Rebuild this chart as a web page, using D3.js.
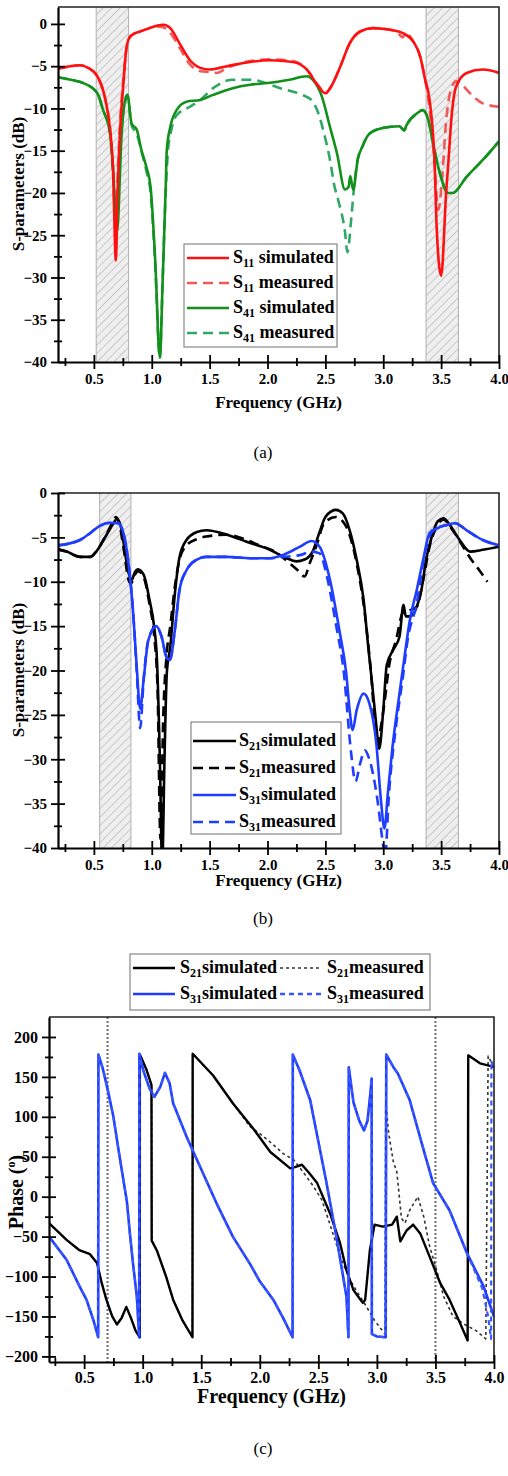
<!DOCTYPE html>
<html>
<head>
<meta charset="utf-8">
<script src="https://cdn.jsdelivr.net/npm/d3@7"></script>
<style>
  body { margin: 0; background: #fff; }
  svg { display: block; }
  text { font-family: "Liberation Serif", "Times New Roman", serif; white-space: pre; }
</style>
</head>
<body>
<svg id="fig" width="508" height="1476"></svg>
<script>
// ---------- Panel (a): reflection S11 and isolation S41, dB vs GHz ----------
const s11Simulated = [[0.19,-5.3],[0.3,-5.0],[0.38,-4.9],[0.45,-5.2],[0.53,-6.2],[0.6,-9],[0.64,-12.5],[0.665,-17],[0.69,-28],[0.705,-20],[0.725,-13],[0.755,-7],[0.78,-3],[0.8,-1.8],[0.83,-1.3],[0.9,-0.9],[0.98,-0.5],[1.05,-0.2],[1.1,-0.1],[1.16,-0.5],[1.24,-2.3],[1.33,-4.3],[1.42,-5.2],[1.5,-5.4],[1.65,-5.0],[1.85,-4.5],[2.02,-4.3],[2.22,-4.5],[2.34,-5.4],[2.44,-7.4],[2.5,-8.2],[2.55,-7.4],[2.63,-5.0],[2.71,-2.3],[2.8,-0.9],[2.91,-0.5],[3.06,-0.7],[3.17,-1.1],[3.26,-2.1],[3.32,-3.9],[3.36,-6.5],[3.4,-9],[3.445,-16.9],[3.46,-23.6],[3.5,-29.8],[3.545,-19.6],[3.56,-16.9],[3.59,-11],[3.63,-7.4],[3.72,-5.8],[3.86,-5.4],[4.0,-5.8]];
const s11Measured = [[0.19,-5.3],[0.3,-5.0],[0.38,-4.9],[0.45,-5.2],[0.53,-6.2],[0.6,-9],[0.64,-12.5],[0.665,-17.5],[0.685,-24],[0.705,-18],[0.725,-12],[0.755,-6.5],[0.78,-3],[0.8,-1.8],[0.83,-1.3],[0.9,-0.9],[0.98,-0.5],[1.05,-0.3],[1.1,-0.4],[1.15,-0.9],[1.24,-2.8],[1.33,-4.8],[1.42,-5.6],[1.5,-5.7],[1.56,-5.8],[1.65,-5.2],[1.85,-4.4],[2.02,-4.2],[2.22,-4.4],[2.34,-5.4],[2.44,-7.3],[2.5,-8.2],[2.55,-7.4],[2.63,-5.0],[2.71,-2.3],[2.8,-0.9],[2.91,-0.5],[3.06,-0.7],[3.12,-1.0],[3.17,-1.6],[3.19,-1.0],[3.26,-2.1],[3.32,-3.9],[3.36,-6.5],[3.4,-10],[3.44,-16],[3.475,-22],[3.51,-18],[3.54,-12],[3.58,-8],[3.63,-6.8],[3.68,-7.2],[3.75,-8.2],[3.86,-9.4],[4.0,-9.8]];
const s41Simulated = [[0.19,-6.3],[0.3,-6.6],[0.41,-7],[0.53,-8.2],[0.58,-10.2],[0.64,-13],[0.665,-17],[0.7,-24.6],[0.74,-13],[0.77,-9],[0.79,-8.4],[0.826,-11.8],[0.87,-12.5],[0.91,-14.9],[0.955,-17],[0.99,-19.3],[1.03,-28],[1.07,-39.5],[1.095,-30],[1.12,-19.6],[1.13,-14.9],[1.16,-12.2],[1.215,-10.2],[1.3,-9.2],[1.42,-9],[1.53,-8.4],[1.7,-7.6],[1.85,-7.2],[2.0,-7.0],[2.19,-6.6],[2.34,-6.2],[2.39,-6.6],[2.47,-8.6],[2.54,-12.2],[2.6,-15.3],[2.67,-19.6],[2.7,-19.3],[2.715,-18],[2.74,-19.6],[2.78,-16],[2.82,-14.5],[2.88,-13],[3.0,-12.3],[3.14,-12.1],[3.18,-12.6],[3.2,-12],[3.29,-10.6],[3.34,-10.2],[3.39,-11.4],[3.43,-14.1],[3.49,-17.7],[3.56,-20],[3.6,-20],[3.72,-18.1],[3.86,-16.1],[4.0,-13.9]];
const s41Measured = [[0.19,-6.3],[0.3,-6.6],[0.41,-7],[0.53,-8.2],[0.58,-10.2],[0.64,-13],[0.665,-17.5],[0.695,-24],[0.72,-17],[0.745,-11.5],[0.77,-9.2],[0.79,-8.6],[0.826,-12],[0.87,-13],[0.91,-15],[0.955,-17.5],[0.99,-20],[1.03,-28.5],[1.07,-39.5],[1.095,-30],[1.12,-20],[1.14,-15],[1.17,-12.5],[1.215,-10.8],[1.33,-9.8],[1.42,-9],[1.53,-7.6],[1.7,-6.6],[1.85,-6.6],[2.11,-7.6],[2.3,-8.4],[2.38,-9],[2.44,-10.6],[2.48,-12.5],[2.54,-16.1],[2.58,-19.3],[2.61,-20.8],[2.67,-24.7],[2.69,-27],[2.725,-22.8],[2.75,-19],[2.78,-16],[2.82,-14.5],[2.88,-13],[3.0,-12.3],[3.14,-12.1],[3.18,-12.6],[3.2,-12],[3.29,-10.6],[3.34,-10.2],[3.39,-11.4],[3.43,-14.1],[3.49,-17.7],[3.56,-20],[3.6,-20],[3.72,-18.1],[3.86,-16.1],[4.0,-13.9]];
const bandsA = [[0.52, 0.80], [3.37, 3.65]];

// ---------- Panel (b): transmission S21 and S31, dB vs GHz ----------
const s21Simulated = [[0.19,-6.35],[0.265,-6.6],[0.38,-7.2],[0.47,-7.2],[0.52,-6.6],[0.61,-4.7],[0.67,-3.4],[0.7,-2.9],[0.74,-4.2],[0.77,-6.8],[0.8,-9],[0.826,-9.8],[0.855,-8.9],[0.88,-8.6],[0.93,-9.2],[0.98,-12],[1.02,-15],[1.045,-18.8],[1.07,-30],[1.09,-42],[1.11,-30],[1.13,-20.3],[1.16,-17.3],[1.2,-11.3],[1.24,-7.2],[1.3,-5.3],[1.39,-4.4],[1.47,-4.2],[1.65,-4.7],[1.82,-5.5],[2.02,-6.4],[2.16,-7.3],[2.25,-7.7],[2.32,-7.5],[2.39,-6.6],[2.45,-4.4],[2.5,-2.7],[2.59,-1.9],[2.65,-2.3],[2.71,-4.2],[2.77,-7.5],[2.83,-12],[2.87,-17.3],[2.9,-21],[2.935,-25.5],[2.965,-28.8],[3.0,-24.5],[3.03,-19.4],[3.085,-17.7],[3.14,-16.2],[3.175,-12.6],[3.195,-13.9],[3.23,-13.9],[3.29,-12.8],[3.33,-10.9],[3.37,-7.5],[3.42,-4.9],[3.47,-3.2],[3.52,-2.85],[3.575,-3.6],[3.66,-5.3],[3.75,-6.6],[3.86,-6.4],[4.0,-6.05]];
const s21Measured = [[0.19,-6.35],[0.265,-6.6],[0.38,-7.2],[0.47,-7.2],[0.52,-6.6],[0.61,-4.6],[0.67,-3.1],[0.69,-2.7],[0.72,-3.5],[0.76,-6.5],[0.8,-9.8],[0.82,-10.2],[0.855,-9.2],[0.88,-8.8],[0.93,-9.5],[0.98,-12.5],[1.02,-16],[1.05,-22],[1.075,-39],[1.1,-25],[1.13,-18],[1.16,-15],[1.2,-10.5],[1.24,-7.5],[1.3,-5.9],[1.39,-5.2],[1.47,-4.9],[1.65,-4.7],[1.82,-5.3],[1.93,-5.9],[2.05,-6.5],[2.19,-7.9],[2.27,-8.8],[2.32,-9.4],[2.365,-7.9],[2.42,-6.05],[2.49,-3.4],[2.59,-2.7],[2.68,-3.8],[2.77,-7.9],[2.84,-13.5],[2.89,-19.6],[2.95,-28.2],[2.98,-26.3],[3.01,-23.7],[3.05,-19.5],[3.11,-16.6],[3.17,-13.5],[3.23,-13.2],[3.29,-12.8],[3.345,-9.8],[3.4,-6.05],[3.46,-3.8],[3.52,-3],[3.6,-4.2],[3.69,-6.05],[3.76,-7.5],[3.83,-8.7],[3.9,-10]];
const s31Simulated = [[0.19,-5.9],[0.38,-5.3],[0.47,-4.5],[0.55,-3.7],[0.64,-3.35],[0.71,-3.4],[0.755,-4.5],[0.795,-7.5],[0.84,-13.6],[0.87,-19.6],[0.9,-24.3],[0.93,-21],[0.97,-16.6],[1.04,-15],[1.085,-16.2],[1.13,-18.6],[1.157,-18.8],[1.2,-15.4],[1.24,-10.9],[1.3,-8.7],[1.39,-7.5],[1.47,-7.2],[1.65,-7.2],[1.85,-7.35],[2.02,-7.35],[2.13,-7],[2.28,-6.05],[2.38,-5.4],[2.45,-6.05],[2.54,-9.8],[2.62,-15.4],[2.68,-20.3],[2.71,-24.5],[2.735,-26.7],[2.77,-24.5],[2.83,-22.6],[2.88,-23.7],[2.94,-28.2],[2.98,-34.6],[3.01,-37.8],[3.04,-33.8],[3.08,-28.6],[3.14,-22.6],[3.18,-18.8],[3.23,-14.3],[3.29,-10.9],[3.345,-7.5],[3.4,-4.5],[3.46,-4],[3.55,-3.6],[3.62,-3.4],[3.72,-4.2],[3.86,-5.3],[4.0,-5.9]];
const s31Measured = [[0.19,-5.9],[0.38,-5.3],[0.47,-4.5],[0.55,-3.7],[0.64,-3.35],[0.71,-3.4],[0.755,-4.5],[0.795,-7.5],[0.84,-13.6],[0.87,-20],[0.9,-26.5],[0.93,-21],[0.97,-16.6],[1.04,-15],[1.085,-16.2],[1.13,-18.6],[1.157,-18.8],[1.2,-15.4],[1.24,-10.9],[1.3,-8.7],[1.39,-7.5],[1.47,-7.2],[1.65,-7.2],[1.85,-7.35],[2.02,-7.35],[2.13,-7.2],[2.28,-7],[2.38,-6.6],[2.45,-6.8],[2.52,-9.8],[2.59,-14.7],[2.66,-20.3],[2.72,-29],[2.76,-32.5],[2.8,-30.5],[2.84,-29],[2.88,-30],[2.95,-34.6],[3.0,-39.8],[3.015,-41],[3.05,-33.8],[3.11,-26.3],[3.17,-20.7],[3.21,-16.6],[3.29,-12.4],[3.345,-7.9],[3.4,-4.8],[3.46,-4],[3.55,-3.6],[3.62,-3.4],[3.72,-4.2],[3.86,-5.3],[4.0,-5.9]];
const bandsB = [[0.55, 0.82], [3.37, 3.65]];

// ---------- Panel (c): transmission phase, degrees vs GHz ----------
const s21PhaseSimulated = [[0.2,-33],[0.35,-54],[0.46,-67],[0.55,-72],[0.61,-83],[0.65,-108],[0.69,-129],[0.74,-150],[0.78,-160],[0.82,-152],[0.86,-138],[0.9,-152],[0.94,-168],[0.975,-176],[0.976,178],[1.03,160],[1.075,140],[1.077,-55],[1.12,-67],[1.2,-100],[1.26,-129],[1.34,-155],[1.425,-176],[1.427,179],[1.6,152],[1.77,117],[1.945,85],[2.09,56],[2.26,35.5],[2.3,37],[2.36,40],[2.42,30],[2.49,17],[2.6,-21],[2.685,-58],[2.74,-92],[2.8,-117],[2.86,-129],[2.88,-133],[2.9,-129],[2.94,-67],[2.98,-35],[3.05,-37.5],[3.13,-35],[3.17,-25],[3.2,-56],[3.255,-42],[3.31,-35],[3.37,-46],[3.45,-75],[3.54,-108],[3.62,-129],[3.7,-155],[3.775,-180],[3.78,177],[3.88,167],[4.0,162.5]];
const s21PhaseMeasured = [[0.2,-33],[0.35,-54],[0.46,-67],[0.55,-72],[0.61,-83],[0.65,-108],[0.69,-129],[0.74,-150],[0.78,-160],[0.82,-152],[0.86,-138],[0.9,-152],[0.94,-168],[0.975,-176],[0.976,178],[1.03,160],[1.075,140],[1.077,-55],[1.12,-67],[1.2,-100],[1.26,-129],[1.34,-155],[1.425,-176],[1.427,179],[1.6,152],[1.77,117],[1.915,88],[2.0,79],[2.1,67],[2.2,54],[2.29,46],[2.39,27],[2.46,12.5],[2.53,-4],[2.6,-35],[2.7,-80],[2.77,-104],[2.83,-119],[2.9,-135],[2.98,-155],[3.07,-172],[3.075,120],[3.1,80],[3.14,44],[3.17,31],[3.18,17],[3.2,-12.5],[3.21,-27],[3.24,-33],[3.28,-17],[3.35,0],[3.4,-25],[3.45,-62],[3.51,-92],[3.57,-125],[3.65,-150],[3.75,-160],[3.85,-168],[3.93,-178],[3.95,176],[4.0,162]];
const s31PhaseSimulated = [[0.2,-50],[0.35,-79],[0.46,-112],[0.52,-129],[0.58,-155],[0.62,-176],[0.622,178],[0.66,160],[0.7,135],[0.75,100],[0.79,62],[0.835,21],[0.865,-6],[0.89,-45],[0.92,-87],[0.95,-125],[0.97,-176],[0.972,179],[1.005,158],[1.06,135],[1.1,125],[1.15,137.5],[1.19,155],[1.23,142],[1.26,117],[1.375,75],[1.49,37.5],[1.63,-8],[1.77,-50],[1.92,-85],[2.0,-106],[2.115,-129],[2.2,-152],[2.28,-176],[2.282,178],[2.34,158],[2.43,121],[2.57,17],[2.66,-55],[2.74,-125],[2.757,-176],[2.76,162],[2.8,118],[2.85,95],[2.89,83],[2.92,95],[2.945,130],[2.955,148],[2.957,-172],[3.0,-175],[3.075,-176],[3.08,178],[3.14,162.5],[3.18,154],[3.28,121],[3.4,58],[3.48,17],[3.62,-17],[3.77,-71],[3.91,-112],[4.0,-150]];
const s31PhaseMeasured = [[0.2,-50],[0.35,-79],[0.46,-112],[0.52,-129],[0.58,-155],[0.62,-176],[0.622,178],[0.66,160],[0.7,135],[0.75,100],[0.79,62],[0.835,21],[0.865,-6],[0.89,-45],[0.92,-87],[0.95,-125],[0.97,-176],[0.972,179],[1.005,158],[1.06,135],[1.1,125],[1.15,137.5],[1.19,155],[1.23,142],[1.26,117],[1.375,75],[1.49,37.5],[1.63,-8],[1.77,-50],[1.92,-85],[2.0,-106],[2.115,-129],[2.2,-152],[2.28,-176],[2.282,178],[2.34,158],[2.43,121],[2.57,17],[2.66,-55],[2.74,-125],[2.757,-176],[2.76,162],[2.8,118],[2.85,95],[2.89,83],[2.92,95],[2.945,130],[2.955,148],[2.957,-172],[3.0,-175],[3.075,-176],[3.08,178],[3.14,162.5],[3.18,154],[3.28,121],[3.4,58],[3.48,17],[3.62,-17],[3.77,-71],[3.9,-115],[3.95,-150],[3.975,-178],[3.978,170],[4.0,158]];
const phaseMarkers = [0.7, 3.5];

// ---------- Shared tick values ----------
const freqTicks = [0.5, 1.0, 1.5, 2.0, 2.5, 3.0, 3.5, 4.0];
const freqMinorTicks = [0.25, 0.75, 1.25, 1.75, 2.25, 2.75, 3.25, 3.75];
const dbTicks = [0, -5, -10, -15, -20, -25, -30, -35, -40];
const dbMinorTicks = [-2.5, -7.5, -12.5, -17.5, -22.5, -27.5, -32.5, -37.5];
const phaseTicks = [-200, -150, -100, -50, 0, 50, 100, 150, 200];
const phaseMinorTicks = [-175, -125, -75, -25, 25, 75, 125, 175];

const svg = d3.select("#fig");
svg.append("rect").attr("width", 508).attr("height", 1476).attr("fill", "#fff");

const defs = svg.append("defs");
const hatch = defs.append("pattern")
  .attr("id", "hatch").attr("patternUnits", "userSpaceOnUse")
  .attr("width", 6).attr("height", 6).attr("patternTransform", "rotate(45)");
hatch.append("rect").attr("width", 6).attr("height", 6).attr("fill", "#efefef");
hatch.append("line").attr("x1", 0).attr("y1", 0).attr("x2", 0).attr("y2", 6)
  .attr("stroke", "#9a9a9a").attr("stroke-width", 0.9);

const RED = "#ff1010", RED_M = "#f25a5a";
const GREEN = "#12901a", GREEN_M = "#2fa866";
const BLUE = "#1f3dff";

// Text with a subscript part, e.g. S + 11 + " simulated"
function subLabel(sel, x, y, base, sub, rest, size, subSize) {
  const t = sel.append("text").attr("x", x).attr("y", y)
    .attr("font-size", size).attr("font-weight", "bold").attr("fill", "#000");
  t.append("tspan").text(base);
  t.append("tspan").attr("font-size", subSize).attr("dy", subSize * 0.35).text(sub);
  t.append("tspan").attr("dy", -subSize * 0.35).text(rest);
  return t;
}

function drawPanel(cfg) {
  const g = svg.append("g");
  const x = d3.scaleLinear().domain(cfg.xDomain).range([cfg.left, cfg.right]);
  const y = d3.scaleLinear().domain(cfg.yDomain).range([cfg.bottom, cfg.top]);
  const clipId = "clip-" + cfg.id;
  defs.append("clipPath").attr("id", clipId).append("rect")
    .attr("x", cfg.left).attr("y", cfg.top)
    .attr("width", cfg.right - cfg.left).attr("height", cfg.bottom - cfg.top);

  // shaded frequency bands
  (cfg.bands || []).forEach(([a, b]) => {
    g.append("rect").attr("x", x(a)).attr("y", cfg.top)
      .attr("width", x(b) - x(a)).attr("height", cfg.bottom - cfg.top)
      .attr("fill", "url(#hatch)");
    [a, b].forEach(v => g.append("line")
      .attr("x1", x(v)).attr("x2", x(v)).attr("y1", cfg.top).attr("y2", cfg.bottom)
      .attr("stroke", "#b0b0b0").attr("stroke-width", 1));
  });

  // dotted reference frequencies
  (cfg.markers || []).forEach(v => g.append("line")
    .attr("x1", x(v)).attr("x2", x(v)).attr("y1", cfg.top).attr("y2", cfg.bottom)
    .attr("stroke", "#777").attr("stroke-width", 2.2).attr("stroke-dasharray", "2,2"));

  const line = d3.line().x(d => x(d[0])).y(d => y(d[1])).curve(cfg.curve);
  const plot = g.append("g").attr("clip-path", `url(#${clipId})`);
  cfg.series.forEach(s => {
    plot.append("path").datum(s.data).attr("d", line)
      .attr("fill", "none").attr("stroke", s.color).attr("stroke-width", s.width)
      .attr("stroke-dasharray", s.dash || null)
      .attr("stroke-linejoin", "round");
  });

  // frame (top and right)
  g.append("path")
    .attr("d", `M${cfg.left},${cfg.top}H${cfg.right}V${cfg.bottom}`)
    .attr("fill", "none").attr("stroke", "#222").attr("stroke-width", 1.6);

  const fs = cfg.tickFont;
  const styleAxis = a => {
    a.selectAll("line").attr("stroke", "#000").attr("stroke-width", 1.8);
    a.selectAll("path").attr("stroke", "#000").attr("stroke-width", 2.2);
    a.selectAll("text").attr("font-size", fs).attr("font-weight", "bold")
      .attr("fill", "#000").attr("font-family", "Liberation Serif, Times New Roman, serif");
  };
  // x axis: outward ticks with labels, inward ticks, minor ticks both ways
  const xg = g.append("g").attr("transform", `translate(0,${cfg.bottom})`);
  xg.call(d3.axisBottom(x).tickValues(freqTicks).tickSize(7).tickSizeOuter(0)
    .tickPadding(cfg.xPad).tickFormat(d3.format(".1f")));
  styleAxis(xg);
  [[-7, freqTicks], [4, freqMinorTicks], [-4, freqMinorTicks]].forEach(([s, v]) => {
    const a = g.append("g").attr("transform", `translate(0,${cfg.bottom})`)
      .call(d3.axisBottom(x).tickValues(v).tickSize(s).tickFormat(""));
    a.select(".domain").remove();
    styleAxis(a);
  });
  const yg = g.append("g").attr("transform", `translate(${cfg.left},0)`);
  yg.call(d3.axisLeft(y).tickValues(cfg.yTicks).tickSize(7).tickSizeOuter(0)
    .tickPadding(4).tickFormat(d3.format("d")));
  styleAxis(yg);
  [[-7, cfg.yTicks], [4, cfg.yMinor], [-4, cfg.yMinor]].forEach(([s, v]) => {
    const a = g.append("g").attr("transform", `translate(${cfg.left},0)`)
      .call(d3.axisLeft(y).tickValues(v).tickSize(s).tickFormat(""));
    a.select(".domain").remove();
    styleAxis(a);
  });

  // axis titles
  g.append("text").attr("x", (cfg.left + cfg.right) / 2).attr("y", cfg.xTitleY)
    .attr("text-anchor", "middle").attr("font-size", cfg.titleFont)
    .attr("font-weight", "bold").text("Frequency (GHz)");
  const yt = g.append("text")
    .attr("transform", `translate(${cfg.yTitleX},${cfg.yTitleY}) rotate(-90)`)
    .attr("text-anchor", "middle").attr("font-size", cfg.titleFont).attr("font-weight", "bold");
  if (cfg.yTitleSup) {
    yt.append("tspan").text(cfg.yTitle);
    yt.append("tspan").attr("font-size", cfg.titleFont * 0.6).attr("dy", -cfg.titleFont * 0.4).text(cfg.yTitleSup);
    yt.append("tspan").attr("dy", cfg.titleFont * 0.4).text(")");
  } else {
    yt.text(cfg.yTitle);
  }

  // caption
  svg.append("text").attr("x", 263).attr("y", cfg.captionY).attr("text-anchor", "middle")
    .attr("font-size", 17).text(cfg.caption);
  return g;
}

// ----- (a) -----
const gA = drawPanel({
  id: "a", left: 58, right: 499, top: 7, bottom: 362,
  xDomain: [0.19, 4.0], yDomain: [-40, 2],
  yTicks: dbTicks, yMinor: dbMinorTicks, bands: bandsA,
  curve: d3.curveMonotoneX, tickFont: 15, titleFont: 17, xPad: 4,
  series: [
    { data: s11Measured, color: RED_M, width: 2.6, dash: "10,6" },
    { data: s41Measured, color: GREEN_M, width: 2.6, dash: "10,6" },
    { data: s41Simulated, color: GREEN, width: 2.6 },
    { data: s11Simulated, color: RED, width: 2.6 }
  ],
  xTitleY: 408, yTitleX: 24, yTitleY: 184, yTitle: "S-parameters (dB)",
  caption: "(a)", captionY: 458
});
{
  const L = gA.append("g");
  L.append("rect").attr("x", 184).attr("y", 244).attr("width", 153).attr("height", 103)
    .attr("fill", "#fff").attr("stroke", "#888").attr("stroke-width", 1.2);
  const rows = [
    ["11", " simulated", RED, null], ["11", " measured", RED_M, "10,6"],
    ["41", " simulated", GREEN, null], ["41", " measured", GREEN_M, "10,6"]
  ];
  rows.forEach((r, i) => {
    const yy = 258 + i * 25;
    L.append("line").attr("x1", 187).attr("x2", 229).attr("y1", yy).attr("y2", yy)
      .attr("stroke", r[2]).attr("stroke-width", 2.6).attr("stroke-dasharray", r[3]);
    subLabel(L, 233, yy + 5, "S", r[0], r[1], 18, 12);
  });
}

// ----- (b) -----
const gB = drawPanel({
  id: "b", left: 58, right: 499, top: 493, bottom: 848,
  xDomain: [0.19, 4.0], yDomain: [-40, 0],
  yTicks: dbTicks, yMinor: dbMinorTicks, bands: bandsB,
  curve: d3.curveMonotoneX, tickFont: 15, titleFont: 17, xPad: 4,
  series: [
    { data: s21Measured, color: "#000", width: 2.6, dash: "10,6" },
    { data: s21Simulated, color: "#000", width: 2.6 },
    { data: s31Measured, color: BLUE, width: 2.6, dash: "10,6" },
    { data: s31Simulated, color: BLUE, width: 2.6 }
  ],
  xTitleY: 886, yTitleX: 24, yTitleY: 670, yTitle: "S-parameters (dB)",
  caption: "(b)", captionY: 924
});
{
  const L = gB.append("g");
  L.append("rect").attr("x", 191).attr("y", 722).attr("width", 150).attr("height", 112)
    .attr("fill", "#fff").attr("stroke", "#888").attr("stroke-width", 1.2);
  const rows = [
    ["21", "simulated", "#000", null], ["21", "measured", "#000", "10,6"],
    ["31", "simulated", BLUE, null], ["31", "measured", BLUE, "10,6"]
  ];
  rows.forEach((r, i) => {
    const yy = 741 + i * 27;
    L.append("line").attr("x1", 193).attr("x2", 236).attr("y1", yy).attr("y2", yy)
      .attr("stroke", r[2]).attr("stroke-width", 2.6).attr("stroke-dasharray", r[3]);
    subLabel(L, 239, yy + 5, "S", r[0], r[1], 18, 12);
  });
}

// ----- (c) -----
drawPanel({
  id: "c", left: 49, right: 494, top: 1017, bottom: 1362,
  xDomain: [0.2, 4.0], yDomain: [-207, 225],
  yTicks: phaseTicks, yMinor: phaseMinorTicks, markers: phaseMarkers,
  curve: d3.curveLinear, tickFont: 16, titleFont: 20, xPad: 3,
  series: [
    { data: s21PhaseMeasured, color: "#333", width: 1.6, dash: "3,3" },
    { data: s21PhaseSimulated, color: "#000", width: 2.4 },
    { data: s31PhaseSimulated, color: BLUE, width: 2.6 },
    { data: s31PhaseMeasured, color: "#3a58ff", width: 2.2, dash: "5,4" }
  ],
  xTitleY: 1403, yTitleX: 23, yTitleY: 1192, yTitle: "Phase (", yTitleSup: "o",
  caption: "(c)", captionY: 1454
});
{
  const L = svg.append("g");
  L.append("rect").attr("x", 130).attr("y", 954).attr("width", 300).attr("height", 56)
    .attr("fill", "#fff").attr("stroke", "#888").attr("stroke-width", 1.2);
  const items = [
    [133, 180, 968, "21", "simulated", "#000", null, 2.6],
    [280, 327, 968, "21", "measured", "#333", "3,3", 1.6],
    [133, 180, 994, "31", "simulated", BLUE, null, 2.6],
    [280, 327, 994, "31", "measured", "#3a58ff", "5,4", 2.4]
  ];
  items.forEach(([lx, tx, yy, sub, word, col, dash, w]) => {
    L.append("line").attr("x1", lx).attr("x2", lx + 42).attr("y1", yy).attr("y2", yy)
      .attr("stroke", col).attr("stroke-width", w).attr("stroke-dasharray", dash);
    subLabel(L, tx, yy + 5, "S", sub, word, 18, 12);
  });
}
</script>
</body>
</html>
